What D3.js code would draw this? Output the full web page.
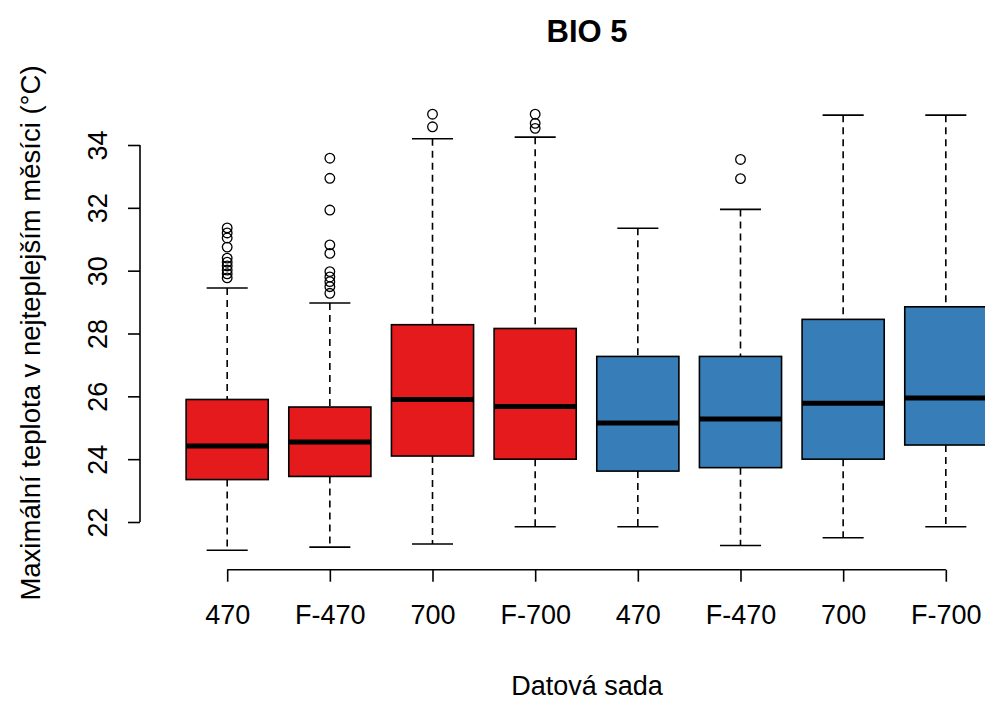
<!DOCTYPE html>
<html>
<head>
<meta charset="utf-8">
<script src="https://cdn.jsdelivr.net/npm/d3@7"></script>
<style>
  body { margin: 0; background: #fff; }
  text { font-family: "Liberation Sans", Arial, sans-serif; fill: #000; }
</style>
</head>
<body>
<div id="chart"></div>
<script>
const W = 985, H = 702;

// data
const labels = ['470', 'F-470', '700', 'F-700', '470', 'F-470', '700', 'F-700'];
const groups = ['red', 'red', 'red', 'red', 'blue', 'blue', 'blue', 'blue'];
const lowWhisker = [21.1, 21.2, 21.3, 21.85, 21.85, 21.25, 21.5, 21.85];
const q1 = [23.35, 23.45, 24.1, 24.0, 23.62, 23.73, 24.0, 24.45];
const median = [24.42, 24.55, 25.9, 25.68, 25.15, 25.28, 25.78, 25.95];
const q3 = [25.9, 25.66, 28.28, 28.16, 27.27, 27.27, 28.45, 28.85];
const highWhisker = [29.45, 28.97, 34.2, 34.25, 31.35, 31.95, 34.95, 34.95];
const outliers = [
  [29.77, 29.9, 30.02, 30.15, 30.27, 30.4, 30.75, 31.04, 31.2, 31.36],
  [29.28, 29.49, 29.65, 29.8, 29.97, 30.55, 30.82, 31.93, 32.94, 33.58],
  [34.58, 34.98],
  [34.53, 34.69, 34.98],
  [],
  [32.93, 33.54],
  [],
  []
];
const yTicks = [22, 24, 26, 28, 30, 32, 34];
const colors = { red: '#E41A1C', blue: '#377EB8' };

const n = labels.length;
const allVals = lowWhisker.concat(highWhisker, outliers.flat());
const lo = d3.min(allVals), hi = d3.max(allVals);
const pad = (hi - lo) * 0.04;

const x = d3.scaleLinear().domain([0.5 - 0.32, n + 0.5 + 0.32]).range([143, 1030]);
const y = d3.scaleLinear().domain([22, 34]).range([522, 145]);
const yBottom = y(lo - pad);

const svg = d3.select('#chart').append('svg').attr('width', W).attr('height', H);

const boxW = (x(2) - x(1)) * 0.8;
const capW = boxW / 2;

const boxes = svg.append('g').selectAll('g').data(d3.range(n)).join('g');

// whiskers (dashed, like R's lty 2)
boxes.append('line')
  .attr('x1', i => x(i + 1)).attr('x2', i => x(i + 1))
  .attr('y1', i => y(highWhisker[i])).attr('y2', i => y(q3[i]))
  .attr('stroke', '#000').attr('stroke-width', 1.6).attr('stroke-dasharray', '7,5');
boxes.append('line')
  .attr('x1', i => x(i + 1)).attr('x2', i => x(i + 1))
  .attr('y1', i => y(q1[i])).attr('y2', i => y(lowWhisker[i]))
  .attr('stroke', '#000').attr('stroke-width', 1.6).attr('stroke-dasharray', '7,5');
// caps
[highWhisker, lowWhisker].forEach(arr => {
  boxes.append('line')
    .attr('x1', i => x(i + 1) - capW / 2).attr('x2', i => x(i + 1) + capW / 2)
    .attr('y1', i => y(arr[i])).attr('y2', i => y(arr[i]))
    .attr('stroke', '#000').attr('stroke-width', 1.6);
});
// boxes
boxes.append('rect')
  .attr('x', i => x(i + 1) - boxW / 2)
  .attr('y', i => y(q3[i]))
  .attr('width', boxW)
  .attr('height', i => y(q1[i]) - y(q3[i]))
  .attr('fill', i => colors[groups[i]])
  .attr('stroke', '#000').attr('stroke-width', 1.6);
// medians
boxes.append('line')
  .attr('x1', i => x(i + 1) - boxW / 2).attr('x2', i => x(i + 1) + boxW / 2)
  .attr('y1', i => y(median[i])).attr('y2', i => y(median[i]))
  .attr('stroke', '#000').attr('stroke-width', 5);
// outliers
boxes.selectAll('circle')
  .data(i => outliers[i].map(v => ({ i, v })))
  .join('circle')
  .attr('cx', d => x(d.i + 1)).attr('cy', d => y(d.v))
  .attr('r', 4.8)
  .attr('fill', 'none').attr('stroke', '#000').attr('stroke-width', 1.3);

// y axis
const yAxis = svg.append('g').attr('transform', 'translate(140,0)')
  .call(d3.axisLeft(y).tickValues(yTicks).tickSize(12).tickSizeOuter(0).tickFormat(d3.format('d')));
yAxis.select('.domain').attr('stroke-width', 1.6).attr('d', `M0,${y(22)}V${y(34)}`);
yAxis.selectAll('.tick line').attr('stroke-width', 1.6);
yAxis.selectAll('.tick text')
  .attr('font-size', 27)
  .attr('text-anchor', 'middle')
  .attr('x', 0).attr('dy', 0)
  .attr('dominant-baseline', 'middle')
  .attr('transform', 'translate(-40,0) rotate(-90)');

// x axis
const xAxis = svg.append('g').attr('transform', `translate(0,${yBottom + 2})`)
  .call(d3.axisBottom(x).tickValues(d3.range(1, n + 1)).tickSize(12).tickSizeOuter(0)
    .tickFormat(d => labels[d - 1]));
xAxis.select('.domain').attr('stroke-width', 1.6).attr('d', `M${x(1)},0H${x(n)}`);
xAxis.selectAll('.tick line').attr('stroke-width', 1.6);
xAxis.selectAll('.tick text').attr('font-size', 27).attr('y', 47).attr('dy', 0).attr('dominant-baseline', 'middle');

// titles
svg.append('text').attr('x', 587).attr('y', 42)
  .attr('text-anchor', 'middle').attr('font-size', 31).attr('font-weight', 'bold')
  .text('BIO 5');
svg.append('text').attr('x', 587).attr('y', 695)
  .attr('text-anchor', 'middle').attr('font-size', 27)
  .text('Datová sada');
svg.append('text')
  .attr('transform', 'translate(40,333) rotate(-90)')
  .attr('text-anchor', 'middle').attr('font-size', 27.5)
  .text('Maximální teplota v nejteplejším měsíci (°C)');
</script>
</body>
</html>
